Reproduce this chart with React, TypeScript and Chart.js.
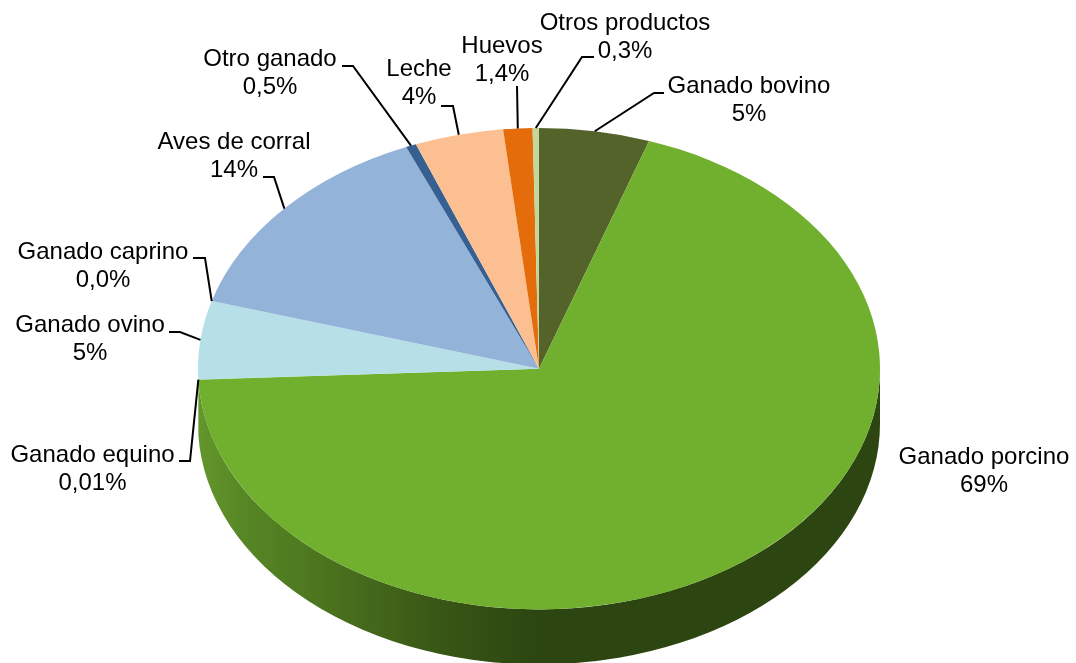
import React, { useEffect, useRef } from "react";
import { Chart, registerables } from "chart.js";

Chart.register(...registerables);

// Data
const categories = ["Ganado bovino", "Ganado porcino", "Ganado equino", "Ganado ovino", "Ganado caprino", "Aves de corral", "Otro ganado", "Leche", "Huevos", "Otros productos"];
const shares = [5.23, 69.05, 0.01, 5.25, 0.0, 14.1, 0.49, 4.2, 1.38, 0.3];
const shareLabels = ["5%", "69%", "0,01%", "5%", "0,0%", "14%", "0,5%", "4%", "1,4%", "0,3%"];

// Styles
const sliceColors = ["#53632a", "#71b02f", "#71b02f", "#b7dfe8", "#93b3d9", "#93b3d9", "#366092", "#fcbf92", "#e46c0a", "#c3d69b"];
const FONT = '24px "Liberation Sans", Arial, sans-serif';
const LINE_GAP = 28;

// Projection of the pie on screen
const CX = 539;
const CY = 368.7;
const RX = 341;
const RY = 240.7;
const DEPTH = 55;

// Label layout: text centre and first-line middle, then leader bends
const labelCentres: [number, number][] = [
  [749, 86], [984, 457], [92.5, 455], [90, 325], [103, 252],
  [234, 142], [270, 59], [419, 69], [502, 46], [625, 23],
];
const leaderBends: [number, number][][] = [
  [[654, 93], [664, 93]],
  [],
  [[190, 461], [179, 461]],
  [[180, 332], [169, 332]],
  [[205, 258], [193, 258]],
  [[274, 177], [263, 177]],
  [[353, 66], [342, 66]],
  [[453, 106], [441, 106]],
  [[517, 86]],
  [[582, 57], [594, 57]],
];

const wallStops: [number, string][] = [
  [0, "#63962b"],
  [0.15, "#568525"],
  [0.3, "#4f7a20"],
  [0.5, "#44681b"],
  [0.7, "#395715"],
  [0.97, "#2d4711"],
  [1, "#2d4611"],
];

const pie3d = {
  id: "pie3d",
  beforeDatasetsDraw(chart: any) {
    const ctx = chart.ctx;
    const arcs = chart.getDatasetMeta(0).data;
    const big = arcs[1];
    // side wall of the front-facing slice
    const a0 = Math.max(big.startAngle, 0);
    const a1 = Math.min(big.endAngle, Math.PI);
    const grad = ctx.createLinearGradient(CX - RX, 0, CX, 0);
    wallStops.forEach(([o, c]) => grad.addColorStop(o, c));
    ctx.save();
    ctx.fillStyle = grad;
    ctx.beginPath();
    ctx.ellipse(CX, CY, RX, RY, 0, a0, a1, false);
    ctx.ellipse(CX, CY + DEPTH, RX, RY, 0, a1, a0, true);
    ctx.closePath();
    ctx.fill();
    ctx.restore();
    // squash the circular pie on to the ellipse
    const sx = RX / big.outerRadius;
    const sy = RY / big.outerRadius;
    ctx.save();
    ctx.translate(CX, CY);
    ctx.scale(sx, sy);
    ctx.translate(-big.x, -big.y);
  },
  afterDatasetsDraw(chart: any) {
    chart.ctx.restore();
  },
  afterDraw(chart: any) {
    const ctx = chart.ctx;
    const arcs = chart.getDatasetMeta(0).data;
    ctx.save();
    ctx.font = FONT;
    ctx.fillStyle = "#000";
    ctx.strokeStyle = "#000";
    ctx.lineWidth = 2;
    ctx.textAlign = "center";
    ctx.textBaseline = "middle";
    categories.forEach((name, i) => {
      const [tx, ty] = labelCentres[i];
      ctx.fillText(name, tx, ty);
      ctx.fillText(shareLabels[i], tx, ty + LINE_GAP);
      const bends = leaderBends[i];
      if (bends.length) {
        const mid = (arcs[i].startAngle + arcs[i].endAngle) / 2;
        ctx.beginPath();
        ctx.moveTo(CX + RX * Math.cos(mid), CY + RY * Math.sin(mid));
        bends.forEach(([x, y]) => ctx.lineTo(x, y));
        ctx.stroke();
      }
    });
    ctx.restore();
  },
};

export default function App() {
  const ref = useRef<HTMLCanvasElement>(null);
  useEffect(() => {
    const chart = new Chart(ref.current!, {
      type: "doughnut",
      data: {
        labels: categories,
        datasets: [{ data: shares, backgroundColor: sliceColors, borderWidth: 0, clip: false } as any],
      },
      options: {
        animation: false,
        responsive: false,
        cutout: 0,
        layout: { padding: 0 },
        plugins: { legend: { display: false }, tooltip: { enabled: false } },
      },
      plugins: [pie3d],
    } as any);
    return () => chart.destroy();
  }, []);
  return (
    <div style={{ position: "absolute", left: 0, top: 0, width: 1076, height: 663, background: "#fff" }}>
      <canvas ref={ref} width={1076} height={663} style={{ display: "block" }} />
    </div>
  );
}
